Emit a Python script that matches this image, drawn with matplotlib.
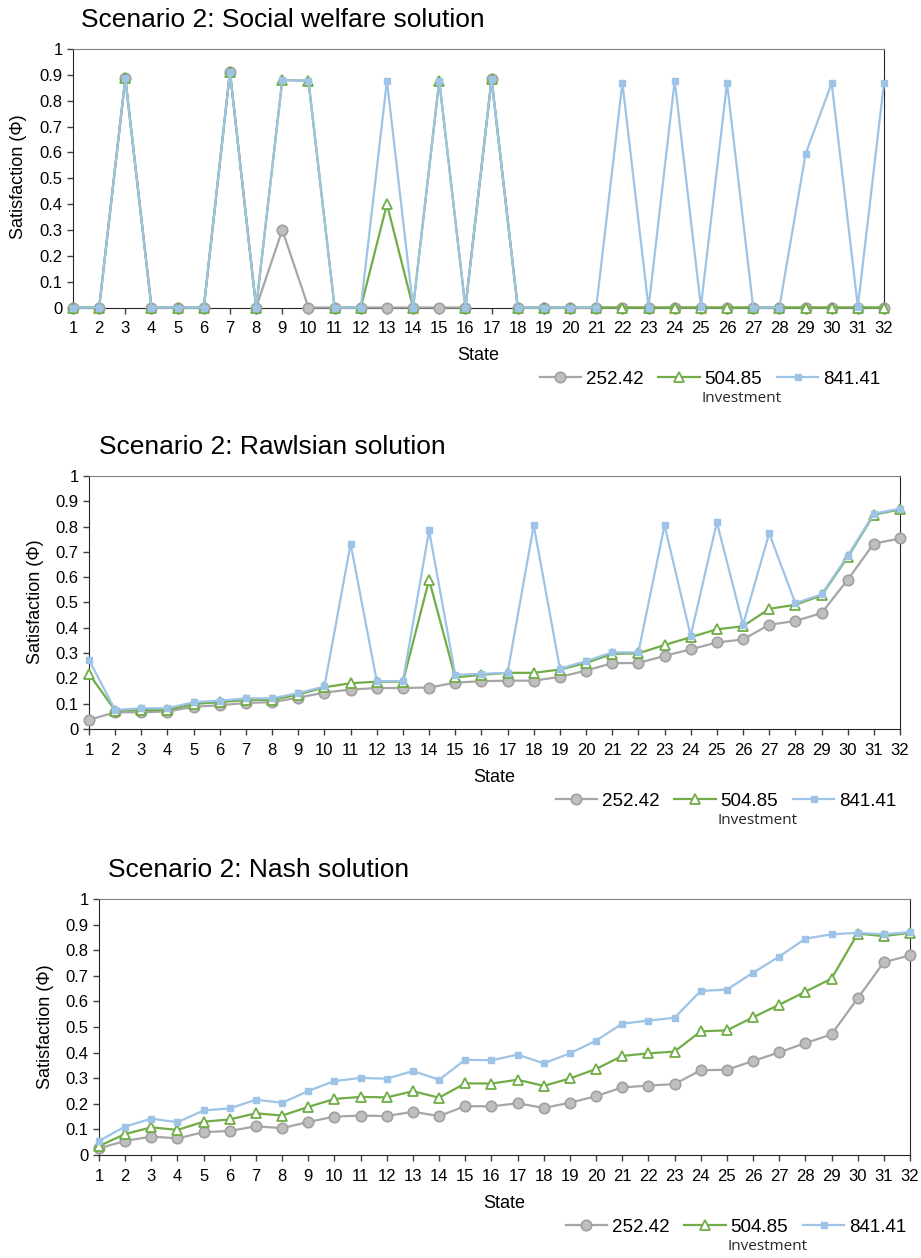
import matplotlib
matplotlib.use('Agg')
import matplotlib.pyplot as plt

plt.rcParams['font.family'] = ['Liberation Sans', 'DejaVu Sans']

# Dados
states = list(range(1, 33))
investments = ['252.42', '504.85', '841.41']

# Social welfare
sw_252 = [0, 0, 0.887, 0, 0, 0, 0.912, 0, 0.300, 0, 0, 0, 0, 0, 0, 0,
          0.883, 0, 0, 0, 0, 0, 0, 0, 0, 0, 0, 0, 0, 0, 0, 0]
sw_505 = [0, 0, 0.887, 0, 0, 0, 0.912, 0, 0.880, 0.877, 0, 0, 0.400, 0, 0.877, 0,
          0.883, 0, 0, 0, 0, 0, 0, 0, 0, 0, 0, 0, 0, 0, 0, 0]
sw_841 = [0, 0, 0.887, 0, 0, 0, 0.912, 0, 0.880, 0.877, 0, 0, 0.877, 0, 0.877, 0,
          0.883, 0, 0, 0, 0, 0.869, 0, 0.877, 0.003, 0.869, 0, 0, 0.593, 0.868, 0.003, 0.869]

# Rawlsian
rw_252 = [0.036, 0.066, 0.066, 0.069, 0.088, 0.094, 0.103, 0.106, 0.124, 0.144, 0.156, 0.162,
          0.162, 0.164, 0.183, 0.189, 0.191, 0.191, 0.206, 0.231, 0.260, 0.261, 0.289, 0.315,
          0.342, 0.354, 0.412, 0.427, 0.458, 0.590, 0.733, 0.753]
rw_505 = [0.218, 0.073, 0.075, 0.075, 0.099, 0.106, 0.115, 0.115, 0.136, 0.165, 0.181, 0.187,
          0.187, 0.590, 0.204, 0.214, 0.222, 0.222, 0.235, 0.261, 0.297, 0.299, 0.332, 0.363,
          0.394, 0.406, 0.475, 0.491, 0.528, 0.679, 0.847, 0.868]
rw_841 = [0.273, 0.075, 0.082, 0.082, 0.106, 0.112, 0.121, 0.121, 0.142, 0.168, 0.732, 0.189,
          0.189, 0.785, 0.214, 0.218, 0.222, 0.805, 0.239, 0.268, 0.303, 0.303, 0.805, 0.368,
          0.817, 0.412, 0.773, 0.497, 0.532, 0.685, 0.851, 0.871]

# Nash
na_252 = [0.026, 0.055, 0.072, 0.065, 0.089, 0.094, 0.112, 0.105, 0.129, 0.150, 0.154, 0.152,
          0.169, 0.152, 0.191, 0.190, 0.202, 0.184, 0.204, 0.230, 0.264, 0.271, 0.277, 0.331,
          0.333, 0.367, 0.401, 0.437, 0.471, 0.612, 0.753, 0.780]
na_505 = [0.035, 0.082, 0.108, 0.098, 0.130, 0.139, 0.163, 0.154, 0.188, 0.219, 0.227, 0.225,
          0.249, 0.224, 0.280, 0.279, 0.294, 0.270, 0.299, 0.336, 0.387, 0.397, 0.404, 0.483,
          0.487, 0.538, 0.587, 0.638, 0.689, 0.865, 0.855, 0.868]
na_841 = [0.055, 0.111, 0.142, 0.128, 0.174, 0.182, 0.216, 0.204, 0.250, 0.289, 0.301, 0.298,
          0.328, 0.294, 0.372, 0.370, 0.392, 0.358, 0.397, 0.447, 0.513, 0.525, 0.536, 0.641,
          0.646, 0.712, 0.775, 0.845, 0.862, 0.868, 0.862, 0.871]

W, H = 921, 1258
fig = plt.figure(figsize=(W / 100, H / 100), dpi=100)

# (titulo, dados, caixa em pixels (esq, topo, dir, base), posicao do titulo, posicao do rotulo y)
paineis = [
    ('Scenario 2: Social welfare solution', (sw_252, sw_505, sw_841), (73, 49, 884, 307.5), (81, 20), (19, 177)),
    ('Scenario 2: Rawlsian solution', (rw_252, rw_505, rw_841), (89, 476, 900, 729), (99, 447), (35, 602)),
    ('Scenario 2: Nash solution', (na_252, na_505, na_841), (99, 899, 910, 1155), (108, 870), (45, 1027)),
]

for titulo, (s1, s2, s3), (l, t, r, b), (tx, ty), (ylx, yly) in paineis:
    ax = fig.add_axes([l / W, 1 - b / H, (r - l) / W, (b - t) / H])
    ax.plot(states, s1, color='#A6A6A6', lw=1.6, marker='o', ms=7.5,
            mfc='#BFBFBF', mec='#A0A0A0', mew=1.2, label=investments[0], clip_on=False, zorder=3)
    ax.plot(states, s2, color='#70AD47', lw=1.6, marker='^', ms=7,
            mfc='white', mec='#70AD47', mew=1.3, label=investments[1], clip_on=False, zorder=4)
    ax.plot(states, s3, color='#9DC3E6', lw=1.6, marker='s', ms=4,
            mfc='#9DC3E6', mec='#9DC3E6', label=investments[2], clip_on=False, zorder=5)

    ax.set_xlim(1, 32)
    ax.set_ylim(0, 1)
    ax.set_xticks(states)
    ax.set_yticks([i / 10 for i in range(11)])
    ax.set_yticklabels(['0'] + ['0.%d' % i for i in range(1, 10)] + ['1'])
    ax.tick_params(axis='both', direction='out', length=4, width=1, labelsize=12, color='#404040')
    ax.tick_params(axis='x', pad=6)
    for lado in ['left', 'bottom', 'right']:
        ax.spines[lado].set_color('#262626')
    ax.spines['top'].set_color('#7F7F7F')
    ax.set_xlabel('State', fontsize=13, labelpad=8)

    fig.text(ylx / W, 1 - yly / H, 'Satisfaction (\u03a6)', rotation=90,
             ha='center', va='center', fontsize=13)
    fig.text(tx / W, 1 - ty / H, titulo, ha='left', va='center', fontsize=19)

    ax.legend(loc='center', bbox_to_anchor=((r - 174) / W, 1 - (b + 72) / H),
              bbox_transform=fig.transFigure, ncol=3, frameon=False, fontsize=13.5,
              handlelength=2.2, handletextpad=0.25, columnspacing=0.8)
    fig.text((r - 142) / W, 1 - (b + 91) / H, 'Investment', ha='center', va='center',
             fontsize=11, family=['Open Sans', 'DejaVu Sans'], color='#262626')

fig.savefig('out.png', dpi=100)
